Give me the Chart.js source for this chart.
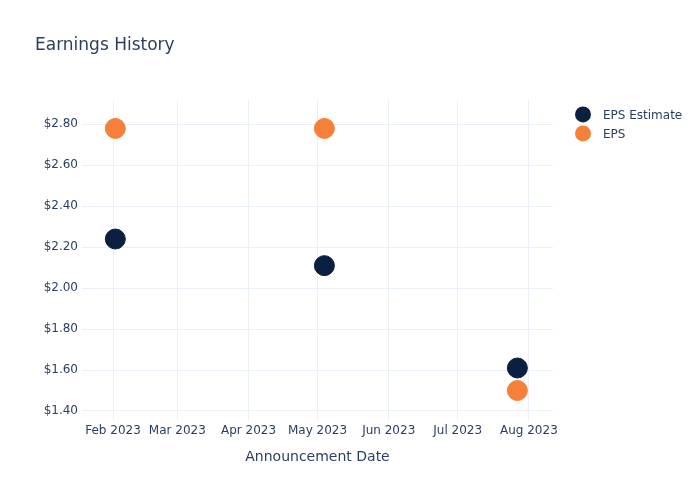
<!doctype html>
<html lang="en">
  <head>
    <meta charset="utf-8">
    <title>Earnings History</title>
    <script src="https://cdn.jsdelivr.net/npm/chart.js"></script>
    <style>
      html, body { margin: 0; padding: 0; background: #fff; }
      #wrap { width: 700px; height: 500px; }
    </style>
  </head>
  <body>
    <div id="wrap"><canvas id="earningsChart"></canvas></div>

    <script>
      // announcement dates and values
      var announceDates = ["2023-02-02", "2023-05-04", "2023-07-27"];
      var epsEstimate = [2.24, 2.11, 1.61];
      var epsActual = [2.78, 2.78, 1.50];

      var xTickDates = ["2023-02-01", "2023-03-01", "2023-04-01", "2023-05-01", "2023-06-01", "2023-07-01", "2023-08-01"];
      var xTickLabels = ["Feb 2023", "Mar 2023", "Apr 2023", "May 2023", "Jun 2023", "Jul 2023", "Aug 2023"];
      var yTicks = [1.4, 1.6, 1.8, 2.0, 2.2, 2.4, 2.6, 2.8];

      function toTime(s) {
        var p = s.split("-");
        return Date.UTC(+p[0], +p[1] - 1, +p[2]);
      }

      function points(values) {
        return values.map(function (v, i) {
          return { x: toTime(announceDates[i]), y: v };
        });
      }

      var textColor = "#2a3f5f";
      var gridColor = "#ebf0f8";
      var font = "'DejaVu Sans', Verdana, sans-serif";

      // plotly-like legend to the right of the plot area
      var sideLegend = {
        id: "sideLegend",
        afterDraw: function (chart) {
          var c = chart.ctx;
          var area = chart.chartArea;
          c.save();
          c.font = "12px " + font;
          c.textBaseline = "middle";
          chart.data.datasets.forEach(function (ds, i) {
            var cx = area.right + 30;
            var cy = area.top + 14 + i * 19;
            c.beginPath();
            c.arc(cx, cy, 8, 0, Math.PI * 2);
            c.fillStyle = ds.backgroundColor;
            c.fill();
            c.fillStyle = textColor;
            c.fillText(ds.label, cx + 20, cy + 1);
          });
          c.restore();
        }
      };

      var ctx = document.getElementById("earningsChart").getContext("2d");
      new Chart(ctx, {
        type: "scatter",
        data: {
          datasets: [
            {
              label: "EPS Estimate",
              data: points(epsEstimate),
              backgroundColor: "#0b1f41",
              borderColor: "#0b1f41",
              pointRadius: 10,
              pointHoverRadius: 10
            },
            {
              label: "EPS",
              data: points(epsActual),
              backgroundColor: "#f6803a",
              borderColor: "#f6803a",
              pointRadius: 10,
              pointHoverRadius: 10
            }
          ]
        },
        options: {
          responsive: true,
          maintainAspectRatio: false,
          animation: false,
          layout: { padding: { left: 35, top: 35, right: 147, bottom: 34 } },
          plugins: {
            title: {
              display: true,
              text: "Earnings History",
              align: "start",
              color: textColor,
              font: { family: font, size: 17, weight: "normal" },
              padding: { top: 0, bottom: 45 }
            },
            legend: { display: false },
            tooltip: { enabled: false }
          },
          scales: {
            x: {
              type: "linear",
              min: Date.UTC(2023, 0, 18, 12),
              max: Date.UTC(2023, 7, 11, 12),
              afterBuildTicks: function (axis) {
                axis.ticks = xTickDates.map(function (d) { return { value: toTime(d) }; });
              },
              afterFit: function (axis) { axis.height = 46; },
              ticks: {
                autoSkip: false,
                maxRotation: 0,
                padding: 4,
                color: textColor,
                font: { family: font, size: 12 },
                callback: function (value) {
                  var i = xTickDates.map(toTime).indexOf(value);
                  return i >= 0 ? xTickLabels[i] : "";
                }
              },
              grid: { color: gridColor, drawTicks: false },
              border: { display: false },
              title: {
                display: true,
                text: "Announcement Date",
                color: textColor,
                font: { family: font, size: 14 },
                padding: { top: 4, bottom: 0 }
              }
            },
            y: {
              min: 1.356,
              max: 2.917,
              afterBuildTicks: function (axis) {
                axis.ticks = yTicks.map(function (v) { return { value: v }; });
              },
              afterFit: function (axis) { axis.width = 47; },
              ticks: {
                padding: 4,
                color: textColor,
                font: { family: font, size: 12 },
                callback: function (value) { return "$" + value.toFixed(2); }
              },
              grid: { color: gridColor, drawTicks: false },
              border: { display: false }
            }
          }
        },
        plugins: [sideLegend]
      });
    </script>
  </body>
</html>
